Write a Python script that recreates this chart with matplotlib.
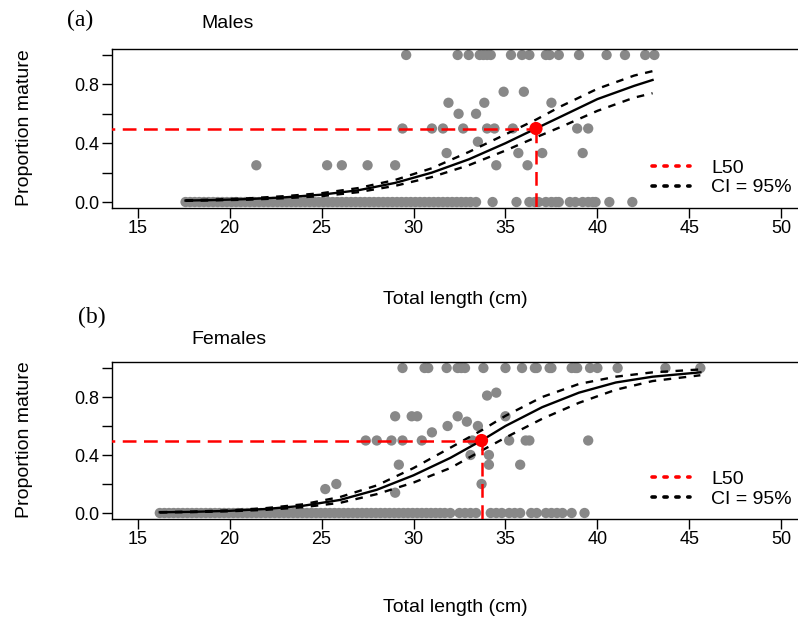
import numpy as np
import matplotlib
matplotlib.use('Agg')
import matplotlib.pyplot as plt
from matplotlib.lines import Line2D

# ------------------------------------------------------------
# данные: самцы (a)
# ------------------------------------------------------------
m_len_0 = [17.6, 17.85, 18.1, 18.35, 18.6, 18.85, 19.1, 19.35, 19.6, 19.85,
           20.1, 20.35, 20.6, 20.85, 21.1, 21.35, 21.6, 21.85, 22.1, 22.35,
           22.6, 22.85, 23.1, 23.35, 23.6, 23.85, 24.1, 24.35, 24.6, 24.85,
           25.1, 25.35, 25.6, 25.85, 26.1, 26.35, 26.6, 26.85, 27.1, 27.35,
           27.6, 27.85, 28.1, 28.35, 28.6, 28.85, 29.1, 29.35, 29.6, 29.85,
           30.1, 30.35, 30.6, 30.85, 31.1, 31.35, 31.6, 31.85, 32.1, 32.35,
           32.6, 32.85, 33.1, 33.4,
           34.3, 35.6, 36.3, 36.6, 36.8, 37.2, 37.5, 37.75, 37.9, 38.5, 38.8,
           39.2, 39.5, 39.75, 39.9, 40.65, 41.9]
m_len_025 = [21.45, 25.3, 26.1, 27.5, 29.0, 34.5, 36.2]
m_len_033 = [31.8, 35.7, 37.0, 39.2]
m_len_04 = [33.5]
m_len_05 = [29.4, 31.0, 31.6, 32.7, 34.0, 34.4, 35.4, 38.9, 39.5]
m_len_06 = [32.45, 33.4]
m_len_067 = [31.9, 33.85, 37.5]
m_len_075 = [34.9, 36.0]
m_len_1 = [29.6, 32.4, 33.0, 33.6, 33.8, 34.0, 34.2, 35.3, 35.9, 36.3, 37.2,
           37.4, 37.9, 39.0, 40.5, 41.5, 42.6, 43.1]

m_curve_len = [17.6, 19, 21, 23, 25, 27, 29, 31, 33, 35, 36.66, 38, 40, 42, 43]
m_curve_p = [0.01, 0.013, 0.02, 0.032, 0.05, 0.08, 0.13, 0.2, 0.29, 0.4, 0.5,
             0.58, 0.7, 0.79, 0.83]
m_ci_up = [0.012, 0.016, 0.025, 0.04, 0.06, 0.095, 0.15, 0.23, 0.34, 0.46,
           0.56, 0.65, 0.77, 0.86, 0.89]
m_ci_lo = [0.008, 0.011, 0.016, 0.026, 0.04, 0.067, 0.11, 0.17, 0.25, 0.35,
           0.44, 0.51, 0.62, 0.71, 0.74]
m_L50 = 36.66

# ------------------------------------------------------------
# данные: самки (b)
# ------------------------------------------------------------
f_len_0 = [16.2, 16.45, 16.7, 16.95, 17.2, 17.45, 17.7, 17.95, 18.2, 18.45,
           18.7, 18.95, 19.2, 19.45, 19.7, 19.95, 20.2, 20.45, 20.7, 20.95,
           21.2, 21.45, 21.7, 21.95, 22.2, 22.45, 22.7, 22.95, 23.2, 23.45,
           23.7, 23.95, 24.2, 24.45, 24.7, 24.95, 25.2, 25.45, 25.7, 25.95,
           26.2, 26.45, 26.7, 26.95, 27.2, 27.45, 27.7, 27.95, 28.2, 28.45,
           28.7, 28.95, 29.2, 29.45, 29.7, 29.95, 30.2, 30.45, 30.7, 30.95,
           31.2, 31.45, 31.7, 32.0,
           32.5, 32.8, 33.1, 33.4, 34.2, 34.5, 34.8, 35.2, 35.5, 35.8, 36.4,
           36.7, 37.2, 37.5, 37.8, 38.1, 38.6, 39.3]
f_len_014 = [29.0]
f_len_017 = [25.2]
f_len_02 = [25.8, 33.7]
f_len_033 = [29.2, 34.1, 35.8]
f_len_04 = [33.1, 34.1]
f_len_05 = [27.4, 28.0, 28.8, 29.4, 30.45, 33.2, 35.2, 36.1, 36.3, 39.5]
f_len_056 = [31.0]
f_len_06 = [31.85, 33.5]
f_len_063 = [32.9]
f_len_067 = [29.0, 29.9, 30.2, 32.4, 35.0]
f_len_08 = [34.0]
f_len_083 = [34.5]
f_len_1 = [29.4, 30.6, 30.8, 31.8, 32.4, 32.6, 32.8, 33.8, 35.0, 35.9, 36.6,
           36.7, 37.4, 37.5, 38.6, 38.8, 38.9, 39.6, 40.0, 41.1, 43.7, 45.6]

f_curve_len = [16.2, 18, 20, 22, 24, 26, 28, 30, 32, 33.7, 35, 37, 39, 41, 43,
               45.6]
f_curve_p = [0.005, 0.008, 0.015, 0.028, 0.05, 0.09, 0.16, 0.26, 0.38, 0.5,
             0.6, 0.73, 0.83, 0.9, 0.94, 0.97]
f_ci_up = [0.006, 0.01, 0.018, 0.034, 0.06, 0.11, 0.19, 0.31, 0.45, 0.57,
           0.67, 0.8, 0.89, 0.94, 0.97, 0.99]
f_ci_lo = [0.004, 0.006, 0.012, 0.022, 0.04, 0.07, 0.13, 0.21, 0.31, 0.43,
           0.52, 0.65, 0.76, 0.85, 0.91, 0.95]
f_L50 = 33.7

x_ticks = [15, 20, 25, 30, 35, 40, 45, 50]
y_ticks = [0.0, 0.2, 0.4, 0.6, 0.8, 1.0]
y_ticklabels = ['0.0', '', '0.4', '', '0.8', '']

males = {
    'groups': [(m_len_0, 0.0), (m_len_025, 0.25), (m_len_033, 0.333),
               (m_len_04, 0.41), (m_len_05, 0.5), (m_len_06, 0.6),
               (m_len_067, 0.675), (m_len_075, 0.75), (m_len_1, 1.0)],
    'curve': (m_curve_len, m_curve_p, m_ci_up, m_ci_lo),
    'L50': m_L50,
}
females = {
    'groups': [(f_len_0, 0.0), (f_len_014, 0.14), (f_len_017, 0.165),
               (f_len_02, 0.2), (f_len_033, 0.333), (f_len_04, 0.4),
               (f_len_05, 0.5), (f_len_056, 0.556), (f_len_06, 0.6),
               (f_len_063, 0.63), (f_len_067, 0.667), (f_len_08, 0.81),
               (f_len_083, 0.83), (f_len_1, 1.0)],
    'curve': (f_curve_len, f_curve_p, f_ci_up, f_ci_lo),
    'L50': f_L50,
}

# ------------------------------------------------------------
# рисунок
# ------------------------------------------------------------
W, H = 798, 626
fig = plt.figure(figsize=(W / 100, H / 100), dpi=100)
plt.rcParams['font.family'] = ['Liberation Sans', 'DejaVu Sans']


def px(x, y):
    return x / W, 1 - y / H


ax_top = fig.add_axes([112 / W, 1 - 207.9 / H, 695 / W, 158.8 / H])
ax_bot = fig.add_axes([112 / W, 1 - 518.8 / H, 695 / W, 156.6 / H])

GRAY = '#888888'


def draw_panel(ax, d):
    for xs, yv in d['groups']:
        ax.scatter(xs, [yv] * len(xs), s=55, color=GRAY, edgecolors='none',
                   zorder=2)
    L, p, up, lo = d['curve']
    ax.plot(L, p, color='black', lw=1.7, zorder=3)
    ax.plot(L, up, color='black', lw=1.7, dashes=(3.2, 3.2), zorder=3)
    ax.plot(L, lo, color='black', lw=1.7, dashes=(3.2, 3.2), zorder=3)
    l50 = d['L50']
    ax.plot([13.0, l50], [0.5, 0.5], color='red', lw=1.8, dashes=(5.5, 3),
            zorder=4)
    ax.plot([l50, l50], [0.5, -0.04], color='red', lw=1.8, dashes=(5.5, 3),
            zorder=4)
    ax.scatter([l50], [0.5], s=90, color='red', edgecolors='none', zorder=5)

    ax.set_xlim(13.6, 51.4)
    ax.set_ylim(-0.04, 1.04)
    ax.set_xticks(x_ticks)
    ax.set_yticks(y_ticks)
    ax.set_yticklabels(y_ticklabels)
    ax.tick_params(axis='both', direction='out', length=7, width=1.0,
                   labelsize=13, pad=2, colors='black')
    for sp in ax.spines.values():
        sp.set_linewidth(1.0)

    handles = [Line2D([], [], color='red', lw=2.6, dashes=(0.9, 2.4),
                      dash_capstyle='round'),
               Line2D([], [], color='black', lw=2.6, dashes=(0.9, 2.4),
                      dash_capstyle='round')]
    ax.legend(handles, ['L50', 'CI = 95%'], loc='center left',
              bbox_to_anchor=((652 - 112) / 695, 0.19), frameon=False,
              fontsize=14, handlelength=1.95, handletextpad=1.1,
              labelspacing=0.1, borderpad=0, borderaxespad=0)


draw_panel(ax_top, males)
draw_panel(ax_bot, females)

# подписи
fig.text(*px(80, 20), '(a)', fontsize=17, family=['Liberation Serif'],
         ha='center', va='center')
fig.text(*px(228, 23), 'Males', fontsize=14, ha='center', va='center')
fig.text(*px(92, 317), '(b)', fontsize=17, family=['Liberation Serif'],
         ha='center', va='center')
fig.text(*px(229, 339), 'Females', fontsize=14, ha='center', va='center')

fig.text(*px(455, 300), 'Total length (cm)', fontsize=14, ha='center',
         va='center')
fig.text(*px(455, 607), 'Total length (cm)', fontsize=14, ha='center',
         va='center')
fig.text(*px(25, 128), 'Proportion mature', fontsize=14, ha='center',
         va='center', rotation=90)
fig.text(*px(25, 440), 'Proportion mature', fontsize=14, ha='center',
         va='center', rotation=90)

fig.savefig('out.png', dpi=100)
